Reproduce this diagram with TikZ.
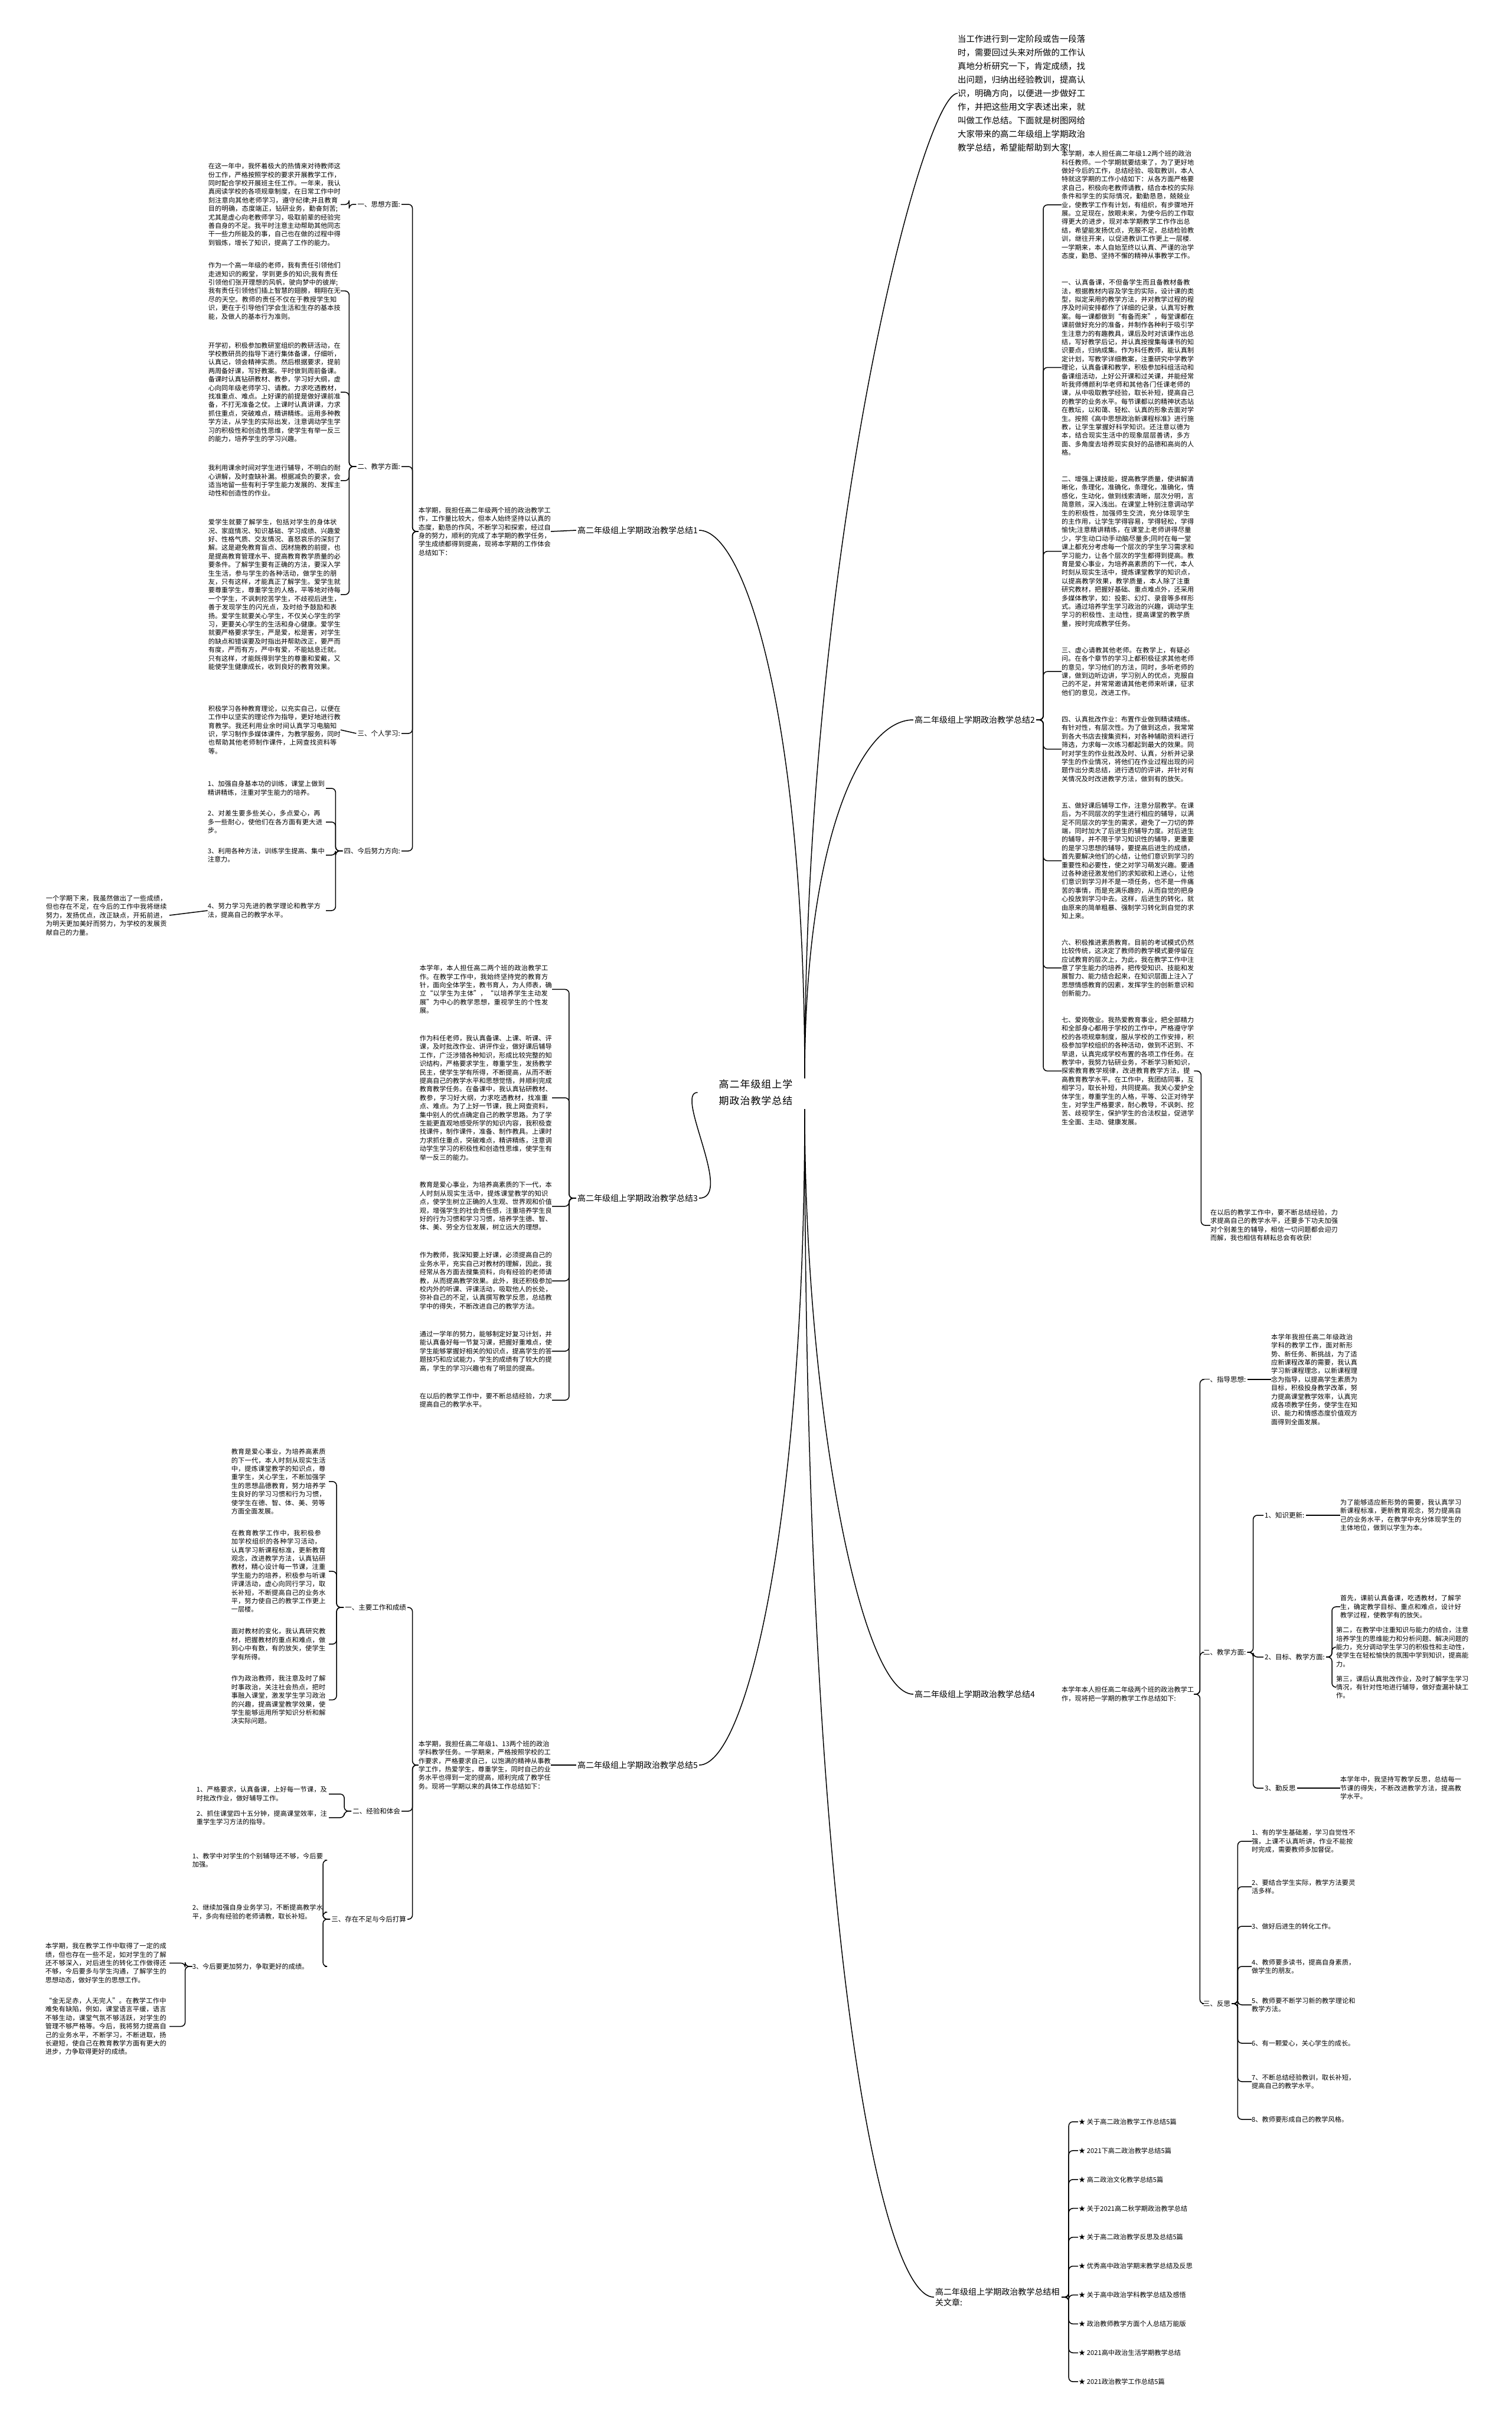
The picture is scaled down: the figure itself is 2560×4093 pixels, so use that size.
\documentclass[tikz,border=0pt]{standalone}
\usepackage{fontspec}
\setmainfont{Noto Sans CJK SC}
\usetikzlibrary{positioning}
\XeTeXlinebreaklocale "zh"
\XeTeXlinebreakskip=0pt plus 1pt

\newcommand\txtfont{\fontsize{11.2}{14.4}\selectfont}
\newcommand\labfont{\fontsize{11.5}{14}\selectfont}
\newcommand\brfont{\fontsize{14}{18}\selectfont}
\newcommand\ctrfont{\fontsize{17}{28}\selectfont}
\newcommand\intfont{\fontsize{14.4}{23}\selectfont}

\tikzset{
  conn/.style={line width=1.5pt, rounded corners=7pt},
  blk/.style={font=\txtfont, text width=224pt, align=left, inner sep=0pt},
  nblk/.style={blk, text width=200pt},
  lab/.style={font=\labfont, inner sep=2pt},
  brn/.style={font=\brfont, inner sep=2pt},
}

\begin{document}
\begin{tikzpicture}[x=1pt,y=-1pt]
\useasboundingbox (0,0) rectangle (2560,4093);

% centre
\node[font=\ctrfont, align=center, text width=190pt] (ctr) at (1280,1850) {高二年级组上学期政治教学总结};
\coordinate (cup) at (1363,1826);
\coordinate (cdn) at (1363,1878);

% intro
\node[font=\intfont, text width=216pt, align=left, inner sep=0pt, anchor=west] (intro) at (1622,158) {当工作进行到一定阶段或告一段落时，需要回过头来对所做的工作认真地分析研究一下，肯定成绩，找出问题，归纳出经验教训，提高认识，明确方向，以便进一步做好工作，并把这些用文字表述出来，就叫做工作总结。下面就是树图网给大家带来的高二年级组上学期政治教学总结，希望能帮助到大家!};

% branch labels
\node[brn] (b1) at (1080,898) {高二年级组上学期政治教学总结1};
\node[brn] (b2) at (1651,1219) {高二年级组上学期政治教学总结2};
\node[brn] (b3) at (1080,2029) {高二年级组上学期政治教学总结3};
\node[brn] (b4) at (1651,2869) {高二年级组上学期政治教学总结4};
\node[brn] (b5) at (1080,2989) {高二年级组上学期政治教学总结5};
\node[brn, text width=212pt, align=left] (b6) at (1690,3890) {高二年级组上学期政治教学总结相关文章:};

\draw[conn] (cup) .. controls +(0,-900) and +(-60,0) .. (intro.west);
\draw[conn] (cup) .. controls +(0,-400) and +(-90,0) .. (b2.west);
\draw[conn] (cup) .. controls +(0,-600) and +(80,0) .. (b1.east);
\draw[conn] (ctr.west) .. controls +(-40,0) and +(60,0) .. (b3.east);
\draw[conn] (cdn) .. controls +(0,500) and +(-90,0) .. (b4.west);
\draw[conn] (cdn) .. controls +(0,700) and +(80,0) .. (b5.east);
\draw[conn] (cdn) .. controls +(0,1400) and +(-90,0) .. (b6.west);

% ---------- branch 1
\node[blk, anchor=east] (b1t) at (933,900) {本学期，我担任高二年级两个班的政治教学工作，工作量比较大，但本人始终坚持以认真的态度，勤恳的作风，不断学习和探索，经过自身的努力，顺利的完成了本学期的教学任务，学生成绩都得到提高，现将本学期的工作体会总结如下：};
\node[lab, anchor=east] (s11) at (680,346) {一、思想方面:};
\node[lab, anchor=east] (s12) at (680,790) {二、教学方面:};
\node[lab, anchor=east] (s13) at (680,1242) {三、个人学习:};
\node[lab, anchor=east] (s14) at (680,1441) {四、今后努力方向:};
\draw[conn] (b1.west) -- (b1t.east);
\foreach \s in {s11,s12,s13,s14} \draw[conn] (b1t.west) -- ++(-10,0) |- (\s.east);

\node[blk, anchor=north east] (l11) at (577,276) {在这一年中，我怀着极大的热情来对待教师这份工作，严格按照学校的要求开展教学工作，同时配合学校开展班主任工作。一年来，我认真阅读学校的各项规章制度，在日常工作中时刻注意向其他老师学习，遵守纪律;并且教育目的明确，态度端正，钻研业务，勤奋刻苦;尤其是虚心向老教师学习，吸取前辈的经验完善自身的不足。我平时注意主动帮助其他同志干一些力所能及的事，自己也在做的过程中得到锻炼，增长了知识，提高了工作的能力。};
\node[blk, anchor=north east] (l21) at (577,444) {作为一个高一年级的老师，我有责任引领他们走进知识的殿堂，学到更多的知识;我有责任引领他们张开理想的风帆，驶向梦中的彼岸;我有责任引领他们插上智慧的翅膀，翱翔在无尽的天空。教师的责任不仅在于教授学生知识，更在于引导他们学会生活和生存的基本技能，及做人的基本行为准则。};
\node[blk, below=38pt of l21] (l22) {开学初，积极参加教研室组织的教研活动，在学校教研员的指导下进行集体备课，仔细听，认真记，领会精神实质。然后根据要求，提前两周备好课，写好教案。平时做到周前备课。备课时认真钻研教材、教参，学习好大纲，虚心向同年级老师学习、请教。力求吃透教材，找准重点、难点。上好课的前提是做好课前准备，不打无准备之仗。上课时认真讲课，力求抓住重点，突破难点，精讲精练。运用多种教学方法，从学生的实际出发，注意调动学生学习的积极性和创造性思维，使学生有举一反三的能力，培养学生的学习兴趣。};
\node[blk, below=38pt of l22] (l23) {我利用课余时间对学生进行辅导，不明白的耐心讲解，及时查缺补漏。根据减负的要求，会适当地留一些有利于学生能力发展的、发挥主动性和创造性的作业。};
\node[blk, below=38pt of l23] (l24) {爱学生就要了解学生，包括对学生的身体状况、家庭情况、知识基础、学习成绩、兴趣爱好、性格气质、交友情况、喜怒哀乐的深刻了解。这是避免教育盲点、因材施教的前提，也是提高教育管理水平、提高教育教学质量的必要条件。了解学生要有正确的方法，要深入学生生活，参与学生的各种活动，做学生的朋友，只有这样，才能真正了解学生。爱学生就要尊重学生，尊重学生的人格，平等地对待每一个学生，不讽刺挖苦学生，不歧视后进生，善于发现学生的闪光点，及时给予鼓励和表扬。爱学生就要关心学生，不仅关心学生的学习，更要关心学生的生活和身心健康。爱学生就要严格要求学生，严是爱，松是害，对学生的缺点和错误要及时指出并帮助改正，要严而有度，严而有方，严中有爱，不能姑息迁就。只有这样，才能既得到学生的尊重和爱戴，又能使学生健康成长，收到良好的教育效果。};
\node[blk, anchor=east] (l31) at (577,1236) {积极学习各种教育理论，以充实自己，以便在工作中以坚实的理论作为指导，更好地进行教育教学。我还利用业余时间认真学习电脑知识，学习制作多媒体课件，为教学服务，同时也帮助其他老师制作课件，上网查找资料等等。};
\draw[conn] (s11.west) -- ++(-12,0) |- (l11.east);
\foreach \c in {l21,l22,l23,l24} \draw[conn] (s12.west) -- ++(-12,0) |- (\c.east);
\draw[conn] (s13.west) -- (l31.east);

\node[nblk, anchor=east] (l41) at (552,1335) {1、加强自身基本功的训练，课堂上做到精讲精练，注重对学生能力的培养。};
\node[nblk, anchor=east] (l42) at (552,1392) {2、对差生要多些关心，多点爱心，再多一些耐心，使他们在各方面有更大进步。};
\node[nblk, anchor=east] (l43) at (552,1448) {3、利用各种方法，训练学生提高、集中注意力。};
\node[nblk, anchor=east] (l44) at (552,1542) {4、努力学习先进的教学理论和教学方法，提高自己的教学水平。};
\node[nblk, anchor=east, text width=209pt] (l45) at (287,1550) {一个学期下来，我虽然做出了一些成绩，但也存在不足，在今后的工作中我将继续努力，发扬优点，改正缺点，开拓前进，为明天更加美好而努力，为学校的发展贡献自己的力量。};
\foreach \c in {l41,l42,l43,l44} \draw[conn] (s14.west) -- ++(-12,0) |- (\c.east);
\draw[conn] (l44.west) -- (l45.east);

% ---------- branch 2
\node[blk, anchor=north west] (r21) at (1798,255) {本学期，本人担任高二年级1.2两个班的政治科任教师。一个学期就要结束了，为了更好地做好今后的工作，总结经验、吸取教训，本人特就这学期的工作小结如下：从各方面严格要求自己，积极向老教师请教，结合本校的实际条件和学生的实际情况，勤勤恳恳，兢兢业业，使教学工作有计划，有组织，有步骤地开展。立足现在，放眼未来，为使今后的工作取得更大的进步，现对本学期教学工作作出总结，希望能发扬优点，克服不足，总结检验教训，继往开来，以促进教训工作更上一层楼.一学期来，本人自始至终以认真、严谨的治学态度，勤恳、坚持不懈的精神从事教学工作。};
\node[blk, below=34pt of r21] (r22) {一、认真备课，不但备学生而且备教材备教法，根据教材内容及学生的实际，设计课的类型，拟定采用的教学方法，并对教学过程的程序及时间安排都作了详细的记录，认真写好教案。每一课都做到“有备而来”，每堂课都在课前做好充分的准备，并制作各种利于吸引学生注意力的有趣教具，课后及时对该课作出总结，写好教学后记，并认真按搜集每课书的知识要点，归纳成集。作为科任教师，能认真制定计划，写教学详细教案，注重研究中学教学理论，认真备课和教学，积极参加科组活动和备课组活动，上好公开课和过关课，并能经常听我师傅颜利华老师和其他各门任课老师的课，从中吸取教学经验，取长补短，提高自己的教学的业务水平。每节课都以的精神状态站在教坛，以和蔼、轻松、认真的形象去面对学生。按照《高中思想政治新课程标准》进行施教，让学生掌握好科学知识。还注意以德为本，结合现实生活中的现象层层善诱，多方面、多角度去培养现实良好的品德和高尚的人格。};
\node[blk, below=34pt of r22] (r23) {二、增强上课技能，提高教学质量，使讲解清晰化，条理化，准确化，条理化，准确化，情感化，生动化，做到线索清晰，层次分明，言简意赅，深入浅出。在课堂上特别注意调动学生的积极性，加强师生交流，充分体现学生的主作用，让学生学得容易，学得轻松，学得愉快;注意精讲精练，在课堂上老师讲得尽量少，学生动口动手动脑尽量多;同时在每一堂课上都充分考虑每一个层次的学生学习需求和学习能力，让各个层次的学生都得到提高。教育是爱心事业，为培养高素质的下一代，本人时刻从现实生活中，提炼课堂教学的知识点，以提高教学效果，教学质量，本人除了注重研究教材，把握好基础、重点难点外，还采用多媒体教学，如：投影、幻灯、录音等多样形式。通过培养学生学习政治的兴趣，调动学生学习的积极性、主动性，提高课堂的教学质量，按时完成教学任务。};
\node[blk, below=34pt of r23] (r24) {三、虚心请教其他老师。在教学上，有疑必问。在各个章节的学习上都积极征求其他老师的意见，学习他们的方法，同时，多听老师的课，做到边听边讲，学习别人的优点，克服自己的不足，并常常邀请其他老师来听课，征求他们的意见，改进工作。};
\node[blk, below=34pt of r24] (r25) {四、认真批改作业：布置作业做到精读精练。有针对性，有层次性。为了做到这点，我常常到各大书店去搜集资料，对各种辅助资料进行筛选，力求每一次练习都起到最大的效果。同时对学生的作业批改及时、认真，分析并记录学生的作业情况，将他们在作业过程出现的问题作出分类总结，进行透切的评讲，并针对有关情况及时改进教学方法，做到有的放矢。};
\node[blk, below=34pt of r25] (r26) {五、做好课后辅导工作，注意分层教学。在课后，为不同层次的学生进行相应的辅导，以满足不同层次的学生的需求，避免了一刀切的弊端，同时加大了后进生的辅导力度。对后进生的辅导，并不限于学习知识性的辅导，更重要的是学习思想的辅导，要提高后进生的成绩，首先要解决他们的心结，让他们意识到学习的重要性和必要性，使之对学习萌发兴趣。要通过各种途径激发他们的求知欲和上进心，让他们意识到学习并不是一项任务，也不是一件痛苦的事情，而是充满乐趣的，从而自觉的把身心投放到学习中去。这样，后进生的转化，就由原来的简单粗暴、强制学习转化到自觉的求知上来。};
\node[blk, below=34pt of r26] (r27) {六、积极推进素质教育。目前的考试模式仍然比较传统，这决定了教师的教学模式要停留在应试教育的层次上，为此，我在教学工作中注意了学生能力的培养，把传受知识、技能和发展智力、能力结合起来，在知识层面上注入了思想情感教育的因素，发挥学生的创新意识和创新能力。};
\node[blk, below=34pt of r27] (r28) {七、爱岗敬业。我热爱教育事业，把全部精力和全部身心都用于学校的工作中，严格遵守学校的各项规章制度，服从学校的工作安排，积极参加学校组织的各种活动，做到不迟到、不早退，认真完成学校布置的各项工作任务。在教学中，我努力钻研业务，不断学习新知识，探索教育教学规律，改进教育教学方法，提高教育教学水平。在工作中，我团结同事，互相学习，取长补短，共同提高。我关心爱护全体学生，尊重学生的人格，平等、公正对待学生，对学生严格要求，耐心教导，不讽刺、挖苦、歧视学生，保护学生的合法权益，促进学生全面、主动、健康发展。};
\node[blk, anchor=west, text width=220pt] (r29) at (2050,2075) {在以后的教学工作中，要不断总结经验，力求提高自己的教学水平，还要多下功夫加强对个别差生的辅导，相信一切问题都会迎刃而解，我也相信有耕耘总会有收获!};
\foreach \c in {r21,r22,r23,r24,r25,r26,r27,r28} \draw[conn] (b2.east) -- ++(12,0) |- (\c.west);
\draw[conn] (r28.east) -- ++(12,0) |- (r29.west);

% ---------- branch 3
\node[blk, anchor=north east] (l51) at (935,1634) {本学年，本人担任高二两个班的政治教学工作。在教学工作中，我始终坚持党的教育方针，面向全体学生，教书育人，为人师表，确立“以学生为主体”，“以培养学生主动发展”为中心的教学思想，重视学生的个性发展。};
\node[blk, below=36pt of l51] (l52) {作为科任老师，我认真备课、上课、听课、评课，及时批改作业、讲评作业，做好课后辅导工作，广泛涉猎各种知识，形成比较完整的知识结构，严格要求学生，尊重学生，发扬教学民主，使学生学有所得，不断提高，从而不断提高自己的教学水平和思想觉悟，并顺利完成教育教学任务。在备课中，我认真钻研教材、教参，学习好大纲，力求吃透教材，找准重点、难点。为了上好一节课，我上网查资料，集中别人的优点确定自己的教学思路。为了学生能更直观地感受所学的知识内容，我积极查找课件，制作课件，准备、制作教具。上课时力求抓住重点，突破难点，精讲精练，注意调动学生学习的积极性和创造性思维，使学生有举一反三的能力。};
\node[blk, below=36pt of l52] (l53) {教育是爱心事业，为培养高素质的下一代，本人时刻从现实生活中，提炼课堂教学的知识点，使学生树立正确的人生观、世界观和价值观，增强学生的社会责任感，注重培养学生良好的行为习惯和学习习惯，培养学生德、智、体、美、劳全方位发展，树立远大的理想。};
\node[blk, below=36pt of l53] (l54) {作为教师，我深知要上好课，必须提高自己的业务水平，充实自己对教材的理解，因此，我经常从各方面去搜集资料，向有经验的老师请教，从而提高教学效果。此外，我还积极参加校内外的听课、评课活动，吸取他人的长处，弥补自己的不足，认真撰写教学反思，总结教学中的得失，不断改进自己的教学方法。};
\node[blk, below=36pt of l54] (l55) {通过一学年的努力，能够制定好复习计划，并能认真备好每一节复习课，把握好重难点，使学生能够掌握好相关的知识点，提高学生的答题技巧和应试能力，学生的成绩有了较大的提高，学生的学习兴趣也有了明显的提高。};
\node[blk, below=36pt of l55] (l56) {在以后的教学工作中，要不断总结经验，力求提高自己的教学水平。};
\foreach \c in {l51,l52,l53,l54,l55,l56} \draw[conn] (b3.west) -- ++(-12,0) |- (\c.east);

% ---------- branch 4
\node[blk, anchor=west] (r41) at (1798,2869) {本学年本人担任高二年级两个班的政治教学工作，现将把一学期的教学工作总结如下:};
\node[lab, anchor=west] (s41) at (2036,2336) {一、指导思想:};
\node[lab, anchor=west] (s42) at (2036,2798) {二、教学方面:};
\node[lab, anchor=west] (s43) at (2036,3393) {三、反思};
\foreach \s in {s41,s42,s43} \draw[conn] (r41.east) -- ++(10,0) |- (\s.west);
\node[blk, anchor=west, text width=146pt] (r42) at (2153,2336) {本学年我担任高二年级政治学科的教学工作，面对新形势、新任务、新挑战，为了适应新课程改革的需要，我认真学习新课程理念，以新课程理念为指导，以提高学生素质为目标，积极投身教学改革，努力提高课堂教学效率，认真完成各项教学任务，使学生在知识、能力和情感态度价值观方面得到全面发展。};
\draw[conn] (s41.east) -- (r42.west);
\node[lab, anchor=west] (s44) at (2140,2566) {1、知识更新:};
\node[lab, anchor=west] (s45) at (2140,2806) {2、目标、教学方面:};
\node[lab, anchor=west] (s46) at (2140,3028) {3、勤反思};
\foreach \s in {s44,s45,s46} \draw[conn] (s42.east) -- ++(10,0) |- (\s.west);
\node[blk, anchor=west, text width=210pt] (r43) at (2270,2566) {为了能够适应新形势的需要，我认真学习新课程标准，更新教育观念，努力提高自己的业务水平，在教学中充分体现学生的主体地位，做到以学生为本。};
\node[blk, anchor=north west, text width=210pt] (r44) at (2270,2701) {首先，课前认真备课，吃透教材，了解学生，确定教学目标、重点和难点，设计好教学过程，使教学有的放矢。};
\node[blk, below=14pt of r44] (r45) {第二，在教学中注重知识与能力的结合，注意培养学生的思维能力和分析问题、解决问题的能力，充分调动学生学习的积极性和主动性，使学生在轻松愉快的氛围中学到知识，提高能力。};
\node[blk, below=14pt of r45] (r46) {第三，课后认真批改作业，及时了解学生学习情况，有针对性地进行辅导，做好查漏补缺工作。};
\node[blk, anchor=west, text width=210pt] (r47) at (2270,3028) {本学年中，我坚持写教学反思，总结每一节课的得失，不断改进教学方法，提高教学水平。};
\draw[conn] (s44.east) -- (r43.west);
\foreach \c in {r44,r45,r46} \draw[conn] (s45.east) -- ++(10,0) |- (\c.west);
\draw[conn] (s46.east) -- (r47.west);
\node[blk, anchor=west, text width=177pt] (q1) at (2120,3118) {1、有的学生基础差，学习自觉性不强，上课不认真听讲，作业不能按时完成，需要教师多加督促。};
\node[blk, anchor=west, text width=177pt] (q2) at (2120,3195) {2、要结合学生实际，教学方法要灵活多样。};
\node[blk, anchor=west, text width=177pt] (q3) at (2120,3262) {3、做好后进生的转化工作。};
\node[blk, anchor=west, text width=177pt] (q4) at (2120,3330) {4、教师要多读书，提高自身素质，做学生的朋友。};
\node[blk, anchor=west, text width=177pt] (q5) at (2120,3395) {5、教师要不断学习新的教学理论和教学方法。};
\node[blk, anchor=west, text width=177pt] (q6) at (2120,3460) {6、有一颗爱心，关心学生的成长。};
\node[blk, anchor=west, text width=177pt] (q7) at (2120,3525) {7、不断总结经验教训，取长补短，提高自己的教学水平。};
\node[blk, anchor=west, text width=177pt] (q8) at (2120,3589) {8、教师要形成自己的教学风格。};
\foreach \c in {q1,q2,q3,q4,q5,q6,q7,q8} \draw[conn] (s43.east) -- ++(10,0) |- (\c.west);

% ---------- branch 5
\node[blk, anchor=east] (l61) at (933,2989) {本学期，我担任高二年级1、13两个班的政治学科教学任务。一学期来，严格按照学校的工作要求，严格要求自己，以饱满的精神从事教学工作，热爱学生，尊重学生，同时自己的业务水平也得到一定的提高，顺利完成了教学任务。现将一学期以来的具体工作总结如下：};
\node[lab, anchor=east] (s51) at (690,2722) {一、主要工作和成绩};
\node[lab, anchor=east] (s52) at (680,3067) {二、经验和体会};
\node[lab, anchor=east] (s53) at (690,3250) {三、存在不足与今后打算};
\draw[conn] (b5.west) -- (l61.east);
\foreach \s in {s51,s52,s53} \draw[conn] (l61.west) -- ++(-10,0) |- (\s.east);
\node[blk, anchor=north east, text width=165pt] (l62) at (557,2453) {教育是爱心事业，为培养高素质的下一代，本人时刻从现实生活中，提炼课堂教学的知识点，尊重学生，关心学生，不断加强学生的思想品德教育，努力培养学生良好的学习习惯和行为习惯，使学生在德、智、体、美、劳等方面全面发展。};
\node[blk, below=26pt of l62, text width=165pt] (l63) {在教育教学工作中，我积极参加学校组织的各种学习活动，认真学习新课程标准，更新教育观念，改进教学方法，认真钻研教材，精心设计每一节课，注重学生能力的培养，积极参与听课评课活动，虚心向同行学习，取长补短，不断提高自己的业务水平，努力使自己的教学工作更上一层楼。};
\node[blk, below=26pt of l63, text width=165pt] (l64) {面对教材的变化，我认真研究教材，把握教材的重点和难点，做到心中有数，有的放矢，使学生学有所得。};
\node[blk, below=26pt of l64, text width=165pt] (l65) {作为政治教师，我注意及时了解时事政治，关注社会热点，把时事融入课堂，激发学生学习政治的兴趣，提高课堂教学效果，使学生能够运用所学知识分析和解决实际问题。};
\foreach \c in {l62,l63,l64,l65} \draw[conn] (s51.west) -- ++(-12,0) |- (\c.east);
\node[blk, anchor=east] (l66) at (557,3038) {1、严格要求，认真备课，上好每一节课，及时批改作业，做好辅导工作。};
\node[blk, anchor=east] (l66b) at (557,3078) {2、抓住课堂四十五分钟，提高课堂效率，注重学生学习方法的指导。};
\foreach \c in {l66,l66b} \draw[conn] (s52.west) -- ++(-12,0) |- (\c.east);
\node[blk, anchor=east] (l67) at (550,3150) {1、教学中对学生的个别辅导还不够，今后要加强。};
\node[blk, anchor=east] (l68) at (550,3238) {2、继续加强自身业务学习，不断提高教学水平，多向有经验的老师请教，取长补短。};
\node[blk, anchor=east] (l69) at (550,3330) {3、今后要更加努力，争取更好的成绩。};
\node[blk, anchor=north east, text width=210pt] (l70) at (287,3290) {本学期，我在教学工作中取得了一定的成绩，但也存在一些不足，如对学生的了解还不够深入，对后进生的转化工作做得还不够，今后要多与学生沟通，了解学生的思想动态，做好学生的思想工作。};
\node[blk, below=24pt of l70, text width=210pt] (l71) {“金无足赤，人无完人”。在教学工作中难免有缺陷，例如，课堂语言平缓，语言不够生动，课堂气氛不够活跃，对学生的管理不够严格等。今后，我将努力提高自己的业务水平，不断学习，不断进取，扬长避短，使自己在教育教学方面有更大的进步，力争取得更好的成绩。};
\foreach \c in {l67,l68,l69} \draw[conn] (s53.west) -- ++(-12,0) |- (\c.east);
\foreach \c in {l70,l71} \draw[conn] (l69.west) -- ++(-12,0) |- (\c.east);

% ---------- related articles
\foreach \t [count=\i from 0] in {关于高二政治教学工作总结5篇,2021下高二政治教学总结5篇,高二政治文化教学总结5篇,关于2021高二秋学期政治教学总结,关于高二政治教学反思及总结5篇,优秀高中政治学期末教学总结及反思,关于高中政治学科教学总结及感悟,政治教师教学方面个人总结万能版,2021高中政治生活学期教学总结,2021政治教学工作总结5篇}
  \node[font=\txtfont, anchor=west, inner sep=1pt] (a\i) at (1826,3593+48.9*\i) {★ \t};
\foreach \i in {0,...,9} \draw[conn] (b6.east) -- ++(12,0) |- (a\i.west);

\end{tikzpicture}
\end{document}
